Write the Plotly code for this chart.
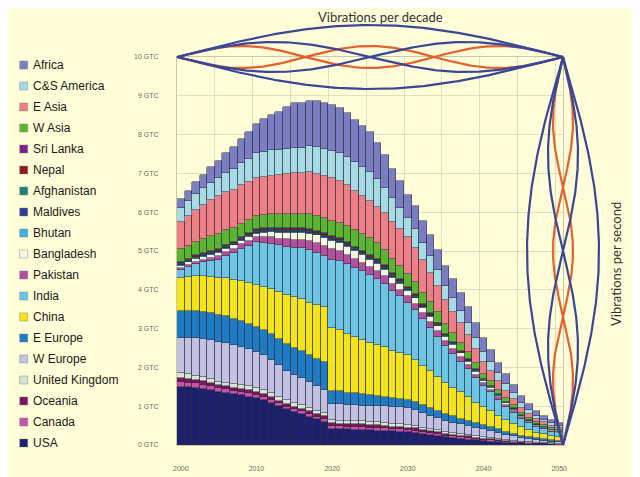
import numpy as np
import plotly.graph_objects as go

# ---------------- data (GTC per year, 2000..2050) ----------------
years = list(range(2000, 2051))

usa = [1.50, 1.49, 1.47, 1.44, 1.41, 1.37, 1.34, 1.31, 1.28, 1.25,
       1.21, 1.15, 1.08, 1.00, 0.92, 0.85, 0.80, 0.73, 0.66, 0.60,
       0.42, 0.41, 0.40, 0.39, 0.39, 0.38, 0.37, 0.36, 0.35, 0.34,
       0.33, 0.31, 0.29, 0.26, 0.23, 0.20, 0.18, 0.16, 0.14, 0.12,
       0.10, 0.09, 0.07, 0.06, 0.05, 0.04, 0.03, 0.025, 0.02, 0.015, 0.01]
canada = [0.13, 0.12, 0.12, 0.11, 0.11, 0.10, 0.10, 0.09, 0.09, 0.08,
          0.08, 0.08, 0.08, 0.07, 0.07, 0.07, 0.07, 0.07, 0.07, 0.07,
          0.07, 0.07, 0.07, 0.07, 0.07, 0.07, 0.07, 0.07, 0.06, 0.06,
          0.06, 0.06, 0.05, 0.05, 0.05, 0.04, 0.04, 0.04, 0.04, 0.03,
          0.03, 0.03, 0.025, 0.02, 0.02, 0.015, 0.013, 0.012, 0.01, 0.008, 0.007]
oceania = [0.10, 0.10, 0.09, 0.09, 0.08, 0.08, 0.08, 0.08, 0.08, 0.08,
           0.08, 0.08, 0.08, 0.07, 0.07, 0.07, 0.07, 0.07, 0.07, 0.07,
           0.07, 0.07, 0.07, 0.07, 0.07, 0.07, 0.07, 0.07, 0.06, 0.06,
           0.06, 0.06, 0.05, 0.05, 0.05, 0.04, 0.04, 0.04, 0.04, 0.03,
           0.03, 0.03, 0.025, 0.02, 0.02, 0.015, 0.013, 0.012, 0.01, 0.008, 0.007]
uk = [0.13, 0.12, 0.11, 0.10, 0.09, 0.08, 0.09, 0.09, 0.10, 0.10,
      0.10, 0.10, 0.09, 0.09, 0.09, 0.09, 0.09, 0.08, 0.08, 0.08,
      0.08, 0.08, 0.08, 0.08, 0.08, 0.08, 0.08, 0.08, 0.07, 0.07,
      0.07, 0.07, 0.06, 0.06, 0.05, 0.05, 0.05, 0.05, 0.04, 0.04,
      0.04, 0.035, 0.03, 0.025, 0.02, 0.02, 0.018, 0.015, 0.013, 0.011, 0.01]
w_europe = [0.91, 0.94, 0.97, 1.00, 1.02, 1.03, 1.02, 1.00, 0.98, 0.96,
            0.93, 0.90, 0.86, 0.82, 0.77, 0.73, 0.70, 0.67, 0.64, 0.61,
            0.42, 0.42, 0.41, 0.41, 0.40, 0.40, 0.41, 0.42, 0.43, 0.44,
            0.44, 0.41, 0.37, 0.34, 0.31, 0.28, 0.26, 0.24, 0.23, 0.21,
            0.20, 0.18, 0.15, 0.13, 0.11, 0.09, 0.08, 0.065, 0.055, 0.045, 0.04]
e_europe = [0.69, 0.69, 0.70, 0.70, 0.70, 0.70, 0.69, 0.68, 0.67, 0.66,
            0.65, 0.65, 0.66, 0.67, 0.68, 0.69, 0.70, 0.70, 0.70, 0.70,
            0.34, 0.33, 0.32, 0.31, 0.30, 0.29, 0.27, 0.25, 0.23, 0.22,
            0.21, 0.20, 0.20, 0.19, 0.19, 0.18, 0.17, 0.15, 0.14, 0.13,
            0.12, 0.11, 0.10, 0.08, 0.07, 0.06, 0.05, 0.04, 0.035, 0.03, 0.025]
china = [0.85, 0.87, 0.89, 0.91, 0.93, 0.95, 0.98, 1.00, 1.03, 1.05,
         1.08, 1.12, 1.17, 1.22, 1.27, 1.32, 1.34, 1.35, 1.38, 1.42,
         1.62, 1.58, 1.52, 1.45, 1.39, 1.33, 1.30, 1.27, 1.23, 1.19,
         1.15, 1.09, 1.02, 0.95, 0.88, 0.80, 0.74, 0.68, 0.62, 0.53,
         0.45, 0.40, 0.35, 0.30, 0.26, 0.22, 0.18, 0.15, 0.13, 0.11, 0.10]
india = [0.21, 0.26, 0.31, 0.36, 0.41, 0.47, 0.58, 0.70, 0.83, 0.96,
         1.09, 1.13, 1.17, 1.21, 1.24, 1.27, 1.30, 1.36, 1.36, 1.32,
         1.76, 1.78, 1.79, 1.79, 1.78, 1.77, 1.72, 1.64, 1.55, 1.45,
         1.35, 1.28, 1.20, 1.12, 1.03, 0.95, 0.87, 0.79, 0.71, 0.63,
         0.55, 0.48, 0.41, 0.34, 0.28, 0.22, 0.18, 0.15, 0.13, 0.11, 0.10]
pakistan = [0.05, 0.056, 0.062, 0.068, 0.074, 0.08, 0.09, 0.10, 0.11, 0.12,
            0.13, 0.14, 0.16, 0.17, 0.19, 0.20, 0.21, 0.22, 0.24, 0.25,
            0.26, 0.25, 0.24, 0.23, 0.22, 0.21, 0.20, 0.19, 0.18, 0.175,
            0.17, 0.165, 0.16, 0.155, 0.15, 0.14, 0.13, 0.12, 0.11, 0.095,
            0.08, 0.07, 0.065, 0.055, 0.045, 0.04, 0.035, 0.03, 0.027, 0.023, 0.02]
bangladesh = [0.05, 0.058, 0.066, 0.074, 0.082, 0.09, 0.092, 0.094, 0.096, 0.098,
              0.10, 0.115, 0.13, 0.15, 0.165, 0.18, 0.19, 0.20, 0.20, 0.21,
              0.21, 0.21, 0.20, 0.19, 0.185, 0.18, 0.17, 0.16, 0.155, 0.145,
              0.14, 0.135, 0.13, 0.125, 0.115, 0.11, 0.10, 0.09, 0.08, 0.07,
              0.06, 0.055, 0.05, 0.04, 0.035, 0.03, 0.025, 0.022, 0.02, 0.017, 0.015]
bhutan = [0.02, 0.02, 0.02, 0.02, 0.02, 0.02, 0.02, 0.02, 0.02, 0.02,
          0.025, 0.025, 0.025, 0.025, 0.025, 0.025, 0.025, 0.025, 0.025, 0.025,
          0.025, 0.025, 0.025, 0.025, 0.025, 0.025, 0.025, 0.025, 0.025, 0.025,
          0.02, 0.02, 0.02, 0.02, 0.02, 0.015, 0.015, 0.015, 0.015, 0.015,
          0.01, 0.01, 0.01, 0.01, 0.01, 0.005, 0.005, 0.004, 0.003, 0.003, 0.002]
maldives = [0.02, 0.02, 0.02, 0.02, 0.02, 0.02, 0.02, 0.02, 0.02, 0.02,
            0.025, 0.025, 0.025, 0.025, 0.025, 0.025, 0.025, 0.025, 0.025, 0.025,
            0.025, 0.025, 0.025, 0.025, 0.025, 0.025, 0.025, 0.025, 0.025, 0.025,
            0.02, 0.02, 0.02, 0.02, 0.02, 0.015, 0.015, 0.015, 0.015, 0.015,
            0.01, 0.01, 0.01, 0.01, 0.01, 0.005, 0.005, 0.004, 0.003, 0.003, 0.002]
afghanistan = [0.02, 0.02, 0.02, 0.02, 0.02, 0.02, 0.02, 0.02, 0.02, 0.02,
               0.025, 0.025, 0.025, 0.025, 0.025, 0.025, 0.025, 0.025, 0.025, 0.025,
               0.025, 0.025, 0.025, 0.025, 0.025, 0.025, 0.025, 0.025, 0.025, 0.025,
               0.02, 0.02, 0.02, 0.02, 0.02, 0.015, 0.015, 0.015, 0.015, 0.015,
               0.01, 0.01, 0.01, 0.01, 0.01, 0.005, 0.005, 0.004, 0.003, 0.003, 0.002]
nepal = [0.02, 0.02, 0.02, 0.02, 0.02, 0.02, 0.02, 0.02, 0.02, 0.02,
         0.025, 0.025, 0.025, 0.025, 0.025, 0.025, 0.025, 0.025, 0.025, 0.025,
         0.025, 0.025, 0.025, 0.025, 0.025, 0.025, 0.025, 0.025, 0.025, 0.025,
         0.02, 0.02, 0.02, 0.02, 0.02, 0.015, 0.015, 0.015, 0.015, 0.015,
         0.01, 0.01, 0.01, 0.01, 0.01, 0.005, 0.005, 0.004, 0.003, 0.003, 0.002]
sri_lanka = [0.02, 0.02, 0.02, 0.02, 0.02, 0.02, 0.02, 0.02, 0.02, 0.02,
             0.025, 0.025, 0.025, 0.025, 0.025, 0.025, 0.025, 0.025, 0.025, 0.025,
             0.025, 0.025, 0.025, 0.025, 0.025, 0.025, 0.025, 0.025, 0.025, 0.025,
             0.02, 0.02, 0.02, 0.02, 0.02, 0.015, 0.015, 0.015, 0.015, 0.015,
             0.01, 0.01, 0.01, 0.01, 0.01, 0.005, 0.005, 0.004, 0.003, 0.003, 0.002]
w_asia = [0.32, 0.33, 0.34, 0.36, 0.37, 0.38, 0.37, 0.35, 0.34, 0.33,
          0.32, 0.33, 0.34, 0.35, 0.36, 0.37, 0.37, 0.38, 0.38, 0.39,
          0.39, 0.40, 0.41, 0.42, 0.43, 0.43, 0.41, 0.38, 0.36, 0.34,
          0.32, 0.31, 0.30, 0.28, 0.27, 0.26, 0.23, 0.20, 0.17, 0.15,
          0.12, 0.11, 0.10, 0.09, 0.07, 0.06, 0.05, 0.045, 0.04, 0.035, 0.03]
e_asia = [0.70, 0.76, 0.82, 0.88, 0.94, 1.00, 1.00, 0.99, 0.99, 0.98,
          0.98, 0.99, 1.00, 1.02, 1.03, 1.04, 1.05, 1.07, 1.09, 1.10,
          1.11, 1.09, 1.06, 1.02, 0.98, 0.95, 0.95, 0.96, 0.96, 0.95,
          0.95, 0.90, 0.83, 0.75, 0.68, 0.60, 0.55, 0.50, 0.44, 0.37,
          0.30, 0.26, 0.22, 0.19, 0.16, 0.13, 0.11, 0.09, 0.08, 0.07, 0.06]
cs_america = [0.38, 0.39, 0.41, 0.42, 0.44, 0.45, 0.49, 0.53, 0.57, 0.61,
              0.65, 0.65, 0.65, 0.64, 0.64, 0.64, 0.65, 0.67, 0.68, 0.69,
              0.70, 0.71, 0.72, 0.73, 0.74, 0.75, 0.71, 0.66, 0.60, 0.55,
              0.50, 0.48, 0.45, 0.43, 0.40, 0.38, 0.36, 0.33, 0.31, 0.29,
              0.27, 0.24, 0.21, 0.18, 0.15, 0.12, 0.10, 0.08, 0.07, 0.06, 0.055]
africa = [0.21, 0.26, 0.31, 0.35, 0.40, 0.45, 0.51, 0.57, 0.63, 0.69,
          0.75, 0.83, 0.91, 0.99, 1.08, 1.16, 1.15, 1.16, 1.18, 1.19,
          1.19, 1.16, 1.13, 1.10, 1.06, 1.03, 0.94, 0.85, 0.75, 0.68,
          0.60, 0.58, 0.56, 0.54, 0.52, 0.50, 0.48, 0.45, 0.42, 0.38,
          0.35, 0.31, 0.27, 0.24, 0.20, 0.17, 0.15, 0.12, 0.10, 0.09, 0.08]

y_ticks = list(range(0, 11))
y_tick_labels = [f"{v} GTC" for v in y_ticks]
x_ticks = [2000, 2010, 2020, 2030, 2040, 2050]
x_tick_labels = [str(v) for v in x_ticks]

# stacking order: bottom -> top
stack = [
    ("USA", usa, "#1d206d"),
    ("Canada", canada, "#c453a9"),
    ("Oceania", oceania, "#7d1461"),
    ("United Kingdom", uk, "#d4e6d4"),
    ("W Europe", w_europe, "#c3c1e3"),
    ("E Europe", e_europe, "#1f7cc4"),
    ("China", china, "#f3e41b"),
    ("India", india, "#6dc5e6"),
    ("Pakistan", pakistan, "#b2509f"),
    ("Bangladesh", bangladesh, "#fbf8e6"),
    ("Bhutan", bhutan, "#3fb1e6"),
    ("Maldives", maldives, "#2c3f98"),
    ("Afghanistan", afghanistan, "#1b8478"),
    ("Nepal", nepal, "#8e1b1f"),
    ("Sri Lanka", sri_lanka, "#7d1f8e"),
    ("W Asia", w_asia, "#5cb531"),
    ("E Asia", e_asia, "#ef7f86"),
    ("C&S America", cs_america, "#a6dbe6"),
    ("Africa", africa, "#7c7ec4"),
]

# ---------------- layout geometry (screen pixels) ----------------
W, H = 640, 477
O = 8                       # page body margin: the figure starts 8 px in
PX_L, PX_R = 177, 563      # plot area left/right (screen)
PX_T, PX_B = 57, 445       # plot area top (10 GTC) / bottom (0 GTC) (screen)
BG = "#fffed8"
BLUE = "#3b4696"
ORANGE = "#e4602e"


def fx(px):
    return (px - O) / W


def fy(py):
    return 1 - (py - O) / H


fig = go.Figure()

for name, vals, col in stack:
    fig.add_trace(go.Bar(
        x=years, y=vals, name=name,
        marker=dict(color=col, line=dict(color="rgba(45,45,55,0.85)", width=0.6)),
        xaxis="x", yaxis="y", showlegend=False,
        hovertemplate=name + " %{x}: %{y} GTC<extra></extra>",
    ))

# ---------------- decorative "vibration" curves (overlay screen-pixel axes) ----------------
t = np.linspace(0, 1, 200)
top_x = PX_L + (PX_R - PX_L) * t
right_y = PX_T + (PX_B - PX_T) * t
curves = []
for amp, k, col in [(32, 1, BLUE), (15, 2, BLUE), (11, 3, ORANGE)]:
    for s in (1, -1):
        curves.append((top_x, PX_T - s * amp * np.sin(k * np.pi * t), col))
for amp, k, col in [(36, 1, BLUE), (15, 2, BLUE), (10, 3, ORANGE)]:
    for s in (1, -1):
        curves.append((PX_R + s * amp * np.sin(k * np.pi * t), right_y, col))
for cx, cy, col in sorted(curves, key=lambda c: c[2] == BLUE):
    fig.add_trace(go.Scatter(
        x=cx, y=cy, mode="lines", line=dict(color=col, width=2.2),
        xaxis="x2", yaxis="y2", showlegend=False, hoverinfo="skip",
    ))

# ---------------- hand-built legend (top = Africa) ----------------
legend_items = list(reversed(stack))
leg_y = [65 + i * 21.0 for i in range(len(legend_items))]
fig.add_trace(go.Scatter(
    x=[23.7] * len(legend_items), y=leg_y, mode="markers",
    marker=dict(symbol="square", size=8,
                color=[c for _, _, c in legend_items],
                line=dict(color="rgba(120,120,120,0.7)", width=0.6)),
    xaxis="x2", yaxis="y2", showlegend=False, hoverinfo="skip",
))
annotations = []
for (name, _, _), yy in zip(legend_items, leg_y):
    annotations.append(dict(
        x=31, y=yy, xref="x2", yref="y2", text=name, showarrow=False,
        xanchor="left", yanchor="middle",
        font=dict(family="Liberation Sans, Arial", size=12, color="#1a1a1a"),
    ))

annotations.append(dict(
    x=380, y=17, xref="x2", yref="y2", text="Vibrations per decade",
    showarrow=False, xanchor="center", yanchor="middle",
    font=dict(family="Lato, Open Sans", size=13, color="#333333"),
))
annotations.append(dict(
    x=616, y=264, xref="x2", yref="y2", text="Vibrations per second",
    showarrow=False, xanchor="center", yanchor="middle", textangle=-90,
    font=dict(family="Lato, Open Sans", size=13, color="#333333"),
))

fig.update_layout(
    width=W, height=H,
    margin=dict(l=0, r=0, t=0, b=0),
    paper_bgcolor=BG, plot_bgcolor="rgba(0,0,0,0)",
    barmode="stack", bargap=0,
    showlegend=False,
    annotations=annotations,
    xaxis=dict(
        domain=[fx(PX_L), fx(PX_R)], range=[1999.5, 2050.5],
        tickmode="array", tickvals=x_ticks, ticktext=x_tick_labels,
        tickfont=dict(family="Liberation Sans, Arial", size=7, color="#6a6a5a"),
        ticks="", ticklabelstandoff=17, showgrid=False, zeroline=False,
        showline=True, linecolor="#c9c9a8", linewidth=1, mirror=True,
        minor=dict(tick0=1999.5, dtick=5, showgrid=True,
                   gridcolor="rgba(200,200,165,0.55)", gridwidth=1),
        anchor="y", automargin=False,
    ),
    yaxis=dict(
        domain=[fy(PX_B), fy(PX_T)], range=[0, 10],
        tickmode="array", tickvals=y_ticks, ticktext=y_tick_labels,
        tickfont=dict(family="Liberation Sans, Arial", size=7, color="#6a6a5a"),
        ticks="", ticklabelstandoff=16, showgrid=True,
        gridcolor="rgba(200,200,165,0.55)", gridwidth=1, zeroline=False,
        showline=True, linecolor="#c9c9a8", linewidth=1, mirror=True,
        anchor="x", automargin=False,
    ),
    xaxis2=dict(domain=[0, 1], range=[O, W + O], visible=False, anchor="y2",
                fixedrange=True),
    yaxis2=dict(domain=[0, 1], range=[H + O, O], visible=False, anchor="x2",
                fixedrange=True),
)

fig.write_html("out.html")
